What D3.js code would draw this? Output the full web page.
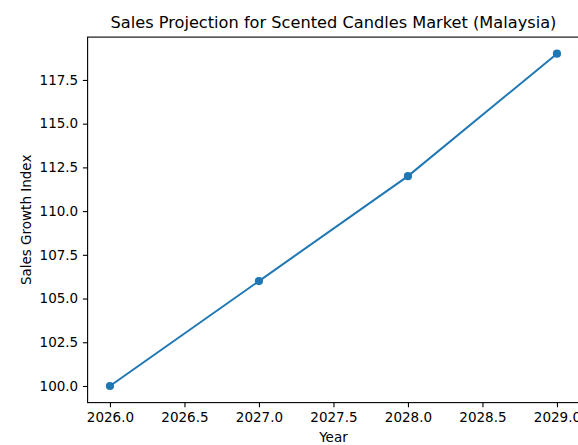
<!DOCTYPE html>
<html>
<head>
<meta charset="utf-8">
<script src="https://cdn.jsdelivr.net/npm/d3@7"></script>
<style>
  html, body { margin: 0; padding: 0; background: #fff; overflow: hidden; }
  svg { display: block; font-family: "DejaVu Sans", sans-serif; }
</style>
</head>
<body>
<svg id="chart" width="578" height="445"></svg>
<script>
// Projected sales growth index by year
const years = [2026, 2027, 2028, 2029];
const salesIndex = [100, 106, 112, 119];
const xTicks = [2026.0, 2026.5, 2027.0, 2027.5, 2028.0, 2028.5, 2029.0];
const yTicks = [100.0, 102.5, 105.0, 107.5, 110.0, 112.5, 115.0, 117.5];

const svg = d3.select("#chart");
const plotLeft = 87.6, plotRight = 579.3, plotTop = 37.1, plotBottom = 402.6;
const tickFont = 13.5, titleFont = 16.2;

// 5% padding around the data range on both axes
const xPad = (d3.max(years) - d3.min(years)) * 0.05;
const yPad = (d3.max(salesIndex) - d3.min(salesIndex)) * 0.05;
const x = d3.scaleLinear()
  .domain([d3.min(years) - xPad, d3.max(years) + xPad])
  .range([plotLeft, plotRight]);
const y = d3.scaleLinear()
  .domain([d3.min(salesIndex) - yPad, d3.max(salesIndex) + yPad])
  .range([plotBottom, plotTop]);

const color = "#1f77b4";

// Axes
const xAxis = d3.axisBottom(x).tickValues(xTicks).tickFormat(d3.format(".1f"))
  .tickSize(4.7).tickPadding(4.7);
const yAxis = d3.axisLeft(y).tickValues(yTicks).tickFormat(d3.format(".1f"))
  .tickSize(4.7).tickPadding(4.7);

const gx = svg.append("g").attr("transform", `translate(0,${plotBottom})`).call(xAxis);
const gy = svg.append("g").attr("transform", `translate(${plotLeft},0)`).call(yAxis);
[gx, gy].forEach(g => {
  g.select(".domain").remove();
  g.selectAll("line").attr("stroke", "#000").attr("stroke-width", 1.1);
  g.selectAll("text").attr("font-size", tickFont).attr("fill", "#000")
    .attr("font-family", "DejaVu Sans, sans-serif");
});

// Frame spines
svg.append("rect")
  .attr("x", plotLeft).attr("y", plotTop)
  .attr("width", plotRight - plotLeft).attr("height", plotBottom - plotTop)
  .attr("fill", "none").attr("stroke", "#000").attr("stroke-width", 1.1);

// Line and markers
const pts = years.map((yr, i) => [yr, salesIndex[i]]);
svg.append("path")
  .datum(pts)
  .attr("fill", "none")
  .attr("stroke", color)
  .attr("stroke-width", 2)
  .attr("d", d3.line().x(d => x(d[0])).y(d => y(d[1])));

svg.append("g").selectAll("circle")
  .data(pts)
  .join("circle")
  .attr("cx", d => x(d[0]))
  .attr("cy", d => y(d[1]))
  .attr("r", 4.1)
  .attr("fill", color);

// Title and axis labels
svg.append("text")
  .attr("x", (plotLeft + plotRight) / 2).attr("y", 28)
  .attr("text-anchor", "middle")
  .attr("font-size", titleFont).attr("fill", "#000")
  .text("Sales Projection for Scented Candles Market (Malaysia)");

svg.append("text")
  .attr("x", (plotLeft + plotRight) / 2).attr("y", 442)
  .attr("text-anchor", "middle")
  .attr("font-size", tickFont).attr("fill", "#000")
  .text("Year");

svg.append("text")
  .attr("transform", `translate(31,${(plotTop + plotBottom) / 2}) rotate(-90)`)
  .attr("text-anchor", "middle")
  .attr("font-size", tickFont).attr("fill", "#000")
  .text("Sales Growth Index");
</script>
</body>
</html>
